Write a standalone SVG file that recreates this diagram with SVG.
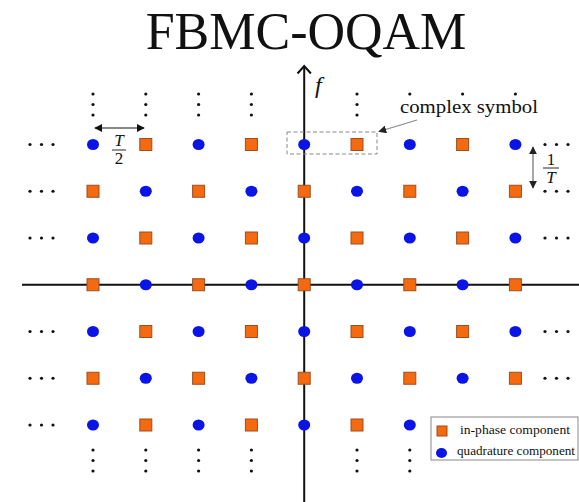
<svg xmlns="http://www.w3.org/2000/svg" xmlns:xlink="http://www.w3.org/1999/xlink" width="579" height="502" viewBox="0 0 579 502">
<style>
.sq{fill:#f5690f;stroke:#9c4f22;stroke-width:1}
.ci{fill:#0a14e6}
.dot{fill:#111}
.ax{stroke:#111;stroke-width:2;fill:none}
.serif{font-family:"Liberation Serif","DejaVu Serif",serif;fill:#111}
.it{font-style:italic}
</style>
<defs>
<rect id="S" x="-6" y="-6" width="12" height="12" class="sq"/>
<ellipse id="C" cx="0" cy="0" rx="6" ry="5.6" class="ci"/>
<g id="V"><circle cx="0" cy="0" r="1.6" class="dot"/><circle cx="0" cy="10.5" r="1.6" class="dot"/><circle cx="0" cy="21" r="1.6" class="dot"/></g>
<g id="H"><circle cx="0" cy="0" r="1.6" class="dot"/><circle cx="11.5" cy="0" r="1.6" class="dot"/><circle cx="23" cy="0" r="1.6" class="dot"/></g>
<marker id="ah" viewBox="0 0 10 10" refX="9" refY="5" markerWidth="8" markerHeight="8" orient="auto-start-reverse" markerUnits="userSpaceOnUse"><path d="M0,0 L10,5 L0,10 z" fill="#111"/></marker>
<marker id="ahg" viewBox="0 0 10 10" refX="9" refY="5" markerWidth="8" markerHeight="8" orient="auto-start-reverse" markerUnits="userSpaceOnUse"><path d="M0,0 L10,5 L0,10 z" fill="#222"/></marker>
</defs>
<rect width="579" height="502" fill="#fff"/>
<text x="306" y="49" text-anchor="middle" class="serif" font-size="52">FBMC-OQAM</text>

<g id="axes">
<line x1="22" y1="284.75" x2="579" y2="284.75" class="ax"/>
<line x1="304.2" y1="502" x2="304.2" y2="66" class="ax"/>
<polyline points="297.5,73.5 304.2,66 310.9,73.5" class="ax" stroke-width="1.8"/>
<text x="315" y="93" class="serif it" font-size="24">f</text>
</g>

<g id="ellipsis">
<use xlink:href="#V" x="93" y="94"/>
<use xlink:href="#V" x="145.8" y="94"/>
<use xlink:href="#V" x="198.6" y="94"/>
<use xlink:href="#V" x="251.4" y="94"/>
<use xlink:href="#V" x="357" y="94"/>
<circle cx="409.8" cy="94" r="1.6" class="dot"/>
<circle cx="462.6" cy="94" r="1.6" class="dot"/>
<circle cx="515.4" cy="94" r="1.6" class="dot"/>
<use xlink:href="#V" x="93" y="450"/>
<use xlink:href="#V" x="145.8" y="450"/>
<use xlink:href="#V" x="198.6" y="450"/>
<use xlink:href="#V" x="251.4" y="450"/>
<use xlink:href="#V" x="357" y="450"/>
<use xlink:href="#V" x="409.8" y="450"/>
<use xlink:href="#H" x="30" y="144.5"/>
<use xlink:href="#H" x="30" y="191.25"/>
<use xlink:href="#H" x="30" y="238"/>
<use xlink:href="#H" x="30" y="331.5"/>
<use xlink:href="#H" x="30" y="378.25"/>
<use xlink:href="#H" x="30" y="425"/>
<use xlink:href="#H" x="545" y="144.5"/>
<use xlink:href="#H" x="545" y="191.25"/>
<use xlink:href="#H" x="545" y="238"/>
<use xlink:href="#H" x="545" y="331.5"/>
<use xlink:href="#H" x="545" y="378.25"/>
</g>

<g id="grid">
<use id="n00" xlink:href="#C" x="93" y="144.5"/><use id="n01" xlink:href="#S" x="145.8" y="144.5"/><use id="n02" xlink:href="#C" x="198.6" y="144.5"/><use id="n03" xlink:href="#S" x="251.4" y="144.5"/><use id="n04" xlink:href="#C" x="304.2" y="144.5"/><use id="n05" xlink:href="#S" x="357" y="144.5"/><use id="n06" xlink:href="#C" x="409.8" y="144.5"/><use id="n07" xlink:href="#S" x="462.6" y="144.5"/><use id="n08" xlink:href="#C" x="515.4" y="144.5"/>
<use id="n10" xlink:href="#S" x="93" y="191.25"/><use id="n11" xlink:href="#C" x="145.8" y="191.25"/><use id="n12" xlink:href="#S" x="198.6" y="191.25"/><use id="n13" xlink:href="#C" x="251.4" y="191.25"/><use id="n14" xlink:href="#S" x="304.2" y="191.25"/><use id="n15" xlink:href="#C" x="357" y="191.25"/><use id="n16" xlink:href="#S" x="409.8" y="191.25"/><use id="n17" xlink:href="#C" x="462.6" y="191.25"/><use id="n18" xlink:href="#S" x="515.4" y="191.25"/>
<use id="n20" xlink:href="#C" x="93" y="238"/><use id="n21" xlink:href="#S" x="145.8" y="238"/><use id="n22" xlink:href="#C" x="198.6" y="238"/><use id="n23" xlink:href="#S" x="251.4" y="238"/><use id="n24" xlink:href="#C" x="304.2" y="238"/><use id="n25" xlink:href="#S" x="357" y="238"/><use id="n26" xlink:href="#C" x="409.8" y="238"/><use id="n27" xlink:href="#S" x="462.6" y="238"/><use id="n28" xlink:href="#C" x="515.4" y="238"/>
<use id="n30" xlink:href="#S" x="93" y="284.75"/><use id="n31" xlink:href="#C" x="145.8" y="284.75"/><use id="n32" xlink:href="#S" x="198.6" y="284.75"/><use id="n33" xlink:href="#C" x="251.4" y="284.75"/><use id="n34" xlink:href="#S" x="304.2" y="284.75"/><use id="n35" xlink:href="#C" x="357" y="284.75"/><use id="n36" xlink:href="#S" x="409.8" y="284.75"/><use id="n37" xlink:href="#C" x="462.6" y="284.75"/><use id="n38" xlink:href="#S" x="515.4" y="284.75"/>
<use id="n40" xlink:href="#C" x="93" y="331.5"/><use id="n41" xlink:href="#S" x="145.8" y="331.5"/><use id="n42" xlink:href="#C" x="198.6" y="331.5"/><use id="n43" xlink:href="#S" x="251.4" y="331.5"/><use id="n44" xlink:href="#C" x="304.2" y="331.5"/><use id="n45" xlink:href="#S" x="357" y="331.5"/><use id="n46" xlink:href="#C" x="409.8" y="331.5"/><use id="n47" xlink:href="#S" x="462.6" y="331.5"/><use id="n48" xlink:href="#C" x="515.4" y="331.5"/>
<use id="n50" xlink:href="#S" x="93" y="378.25"/><use id="n51" xlink:href="#C" x="145.8" y="378.25"/><use id="n52" xlink:href="#S" x="198.6" y="378.25"/><use id="n53" xlink:href="#C" x="251.4" y="378.25"/><use id="n54" xlink:href="#S" x="304.2" y="378.25"/><use id="n55" xlink:href="#C" x="357" y="378.25"/><use id="n56" xlink:href="#S" x="409.8" y="378.25"/><use id="n57" xlink:href="#C" x="462.6" y="378.25"/><use id="n58" xlink:href="#S" x="515.4" y="378.25"/>
<use id="n60" xlink:href="#C" x="93" y="425"/><use id="n61" xlink:href="#S" x="145.8" y="425"/><use id="n62" xlink:href="#C" x="198.6" y="425"/><use id="n63" xlink:href="#S" x="251.4" y="425"/><use id="n64" xlink:href="#C" x="304.2" y="425"/><use id="n65" xlink:href="#S" x="357" y="425"/><use id="n66" xlink:href="#C" x="409.8" y="425"/>
</g>

<g id="annotations">
<line x1="95" y1="128" x2="144" y2="128" stroke="#111" stroke-width="1.2" marker-start="url(#ah)" marker-end="url(#ah)"/>
<text x="119" y="146" text-anchor="middle" class="serif it" font-size="17">T</text>
<line x1="112" y1="150" x2="126" y2="150" stroke="#111" stroke-width="0.9"/>
<text x="119" y="164" text-anchor="middle" class="serif" font-size="17">2</text>

<line x1="533" y1="147" x2="533" y2="188" stroke="#777" stroke-width="1.3" marker-start="url(#ahg)" marker-end="url(#ahg)"/>
<text x="551" y="165" text-anchor="middle" class="serif" font-size="17">1</text>
<line x1="543" y1="168" x2="559" y2="168" stroke="#111" stroke-width="0.9"/>
<text x="551" y="183" text-anchor="middle" class="serif it" font-size="17">T</text>

<rect x="287" y="132" width="90" height="22" fill="none" stroke="#888" stroke-width="1" stroke-dasharray="4,2.5"/>
<line x1="417" y1="120" x2="379" y2="131.5" stroke="#888" stroke-width="1.1" marker-end="url(#ahg)"/>
<text x="400" y="113" class="serif" font-size="18" textLength="138" lengthAdjust="spacingAndGlyphs">complex symbol</text>
</g>

<g id="legend">
<rect x="431" y="417" width="147" height="43" fill="#fff" stroke="#888" stroke-width="1"/>
<rect x="437" y="426" width="10" height="10" class="sq"/>
<ellipse cx="441.5" cy="453" rx="5.5" ry="5" class="ci"/>
<text x="460" y="434" class="serif" font-size="11.5" textLength="110" lengthAdjust="spacingAndGlyphs">in-phase component</text>
<text x="457" y="455" class="serif" font-size="11.5" textLength="118" lengthAdjust="spacingAndGlyphs">quadrature component</text>
</g>
</svg>
